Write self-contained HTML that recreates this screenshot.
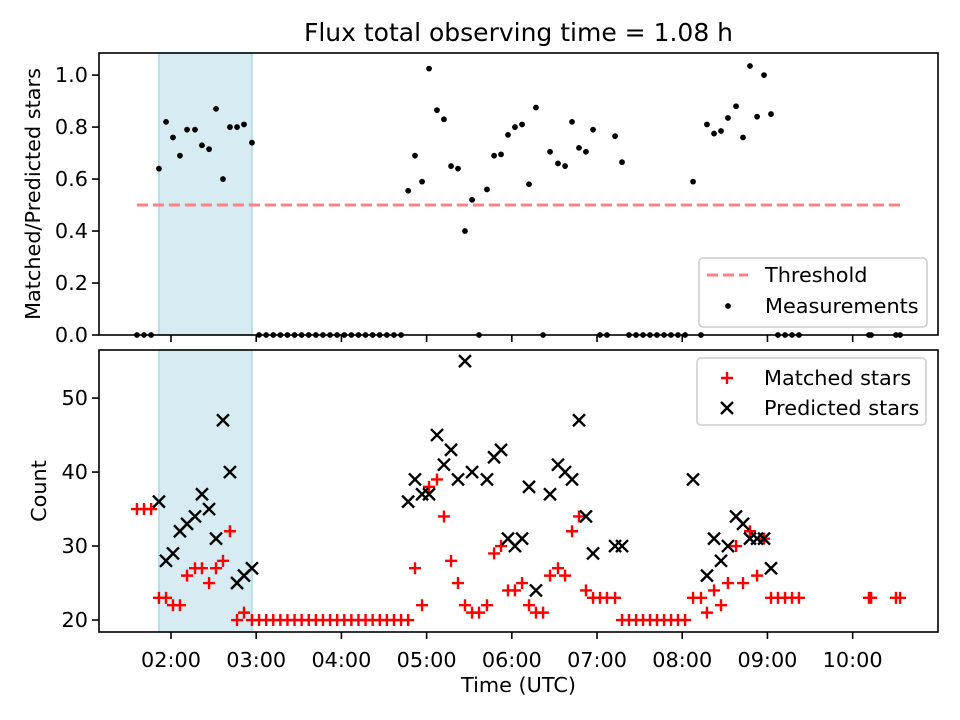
<!DOCTYPE html>
<html><head><meta charset="utf-8"><style>
html,body{margin:0;padding:0;background:#fff;}
svg{display:block;font-family:"DejaVu Sans","Liberation Sans",sans-serif;}
</style></head><body>
<svg id="chart" width="960" height="720" viewBox="0 0 960 720"></svg>
<script>
// data: time in minutes since 00:00 UTC
const times = [96,101,106,111.5,116.5,121.4,126.3,131.3,136.9,141.8,146.8,151.7,156.6,161.5,166.5,171.4,177,
182,187,192,197,202,207,212,217,222,227,232,237,242,247,252,257,262,267,272,277,282,
287,291.8,296.8,301.7,307.3,312.2,317.2,322.1,327,332,336.9,342.5,347.5,352.4,357.3,362.2,367.2,372.1,377,382,386.9,392.5,397.5,402.4,407.3,412.2,417.2,422.1,427,432.7,437.6,
442.5,447.5,452.4,457.3,462.2,467.2,472.1,477,482,
487.6,493.2,497.4,502.4,507.3,512.2,517.9,522.8,527.7,532.7,537.6,542.5,547.4,552.4,557.3,562.2,
611.5,613,630.5,633.4];
const ratio = [0,0,0,.64,.82,.76,.69,.79,.79,.73,.715,.87,.60,.80,.80,.81,.74,
0,0,0,0,0,0,0,0,0,0,0,0,0,0,0,0,0,0,0,0,0,
.555,.69,.59,1.025,.865,.83,.65,.64,.40,.52,0,.56,.69,.695,.77,.80,.81,.58,.875,0,.705,.66,.65,.82,.72,.705,.79,0,0,.765,.665,
0,0,0,0,0,0,0,0,0,
.59,0,.81,.775,.785,.835,.88,.76,1.035,.84,1.0,.85,0,0,0,0,
0,0,0,0];
const matched = [35,35,35,23,23,22,22,26,27,27,25,27,28,32,20,21,20,
20,20,20,20,20,20,20,20,20,20,20,20,20,20,20,20,20,20,20,20,20,
20,27,22,38,39,34,28,25,22,21,21,22,29,30,24,24,25,22,21,21,26,27,26,32,34,24,23,23,23,23,20,
20,20,20,20,20,20,20,20,20,
23,23,21,24,22,25,30,25,32,26,31,23,23,23,23,23,
23,23,23,23];
const predicted = [null,null,null,36,28,29,32,33,34,37,35,31,47,40,25,26,27,
null,null,null,null,null,null,null,null,null,null,null,null,null,null,null,null,null,null,null,null,null,
36,39,37,37,45,41,43,39,55,40,null,39,42,43,31,30,31,38,24,null,37,41,40,39,47,34,29,null,null,30,30,
null,null,null,null,null,null,null,null,null,
39,null,26,31,28,30,34,33,31,31,31,27,null,null,null,null,
null,null,null,null];
const xTickMinutes = [120,180,240,300,360,420,480,540,600];
const xTickLabels = ["02:00","03:00","04:00","05:00","06:00","07:00","08:00","09:00","10:00"];
const topTicks = [0,0.2,0.4,0.6,0.8,1.0];
const topTickLabels = ["0.0","0.2","0.4","0.6","0.8","1.0"];
const botTicks = [20,30,40,50];
const threshold = [0.5];
const shadeStart = [111.5];
const shadeEnd = [177];

const NS="http://www.w3.org/2000/svg";
const svg=document.getElementById('chart');
function mk(tag,attrs,parent){const e=document.createElementNS(NS,tag);for(const k in attrs)e.setAttribute(k,attrs[k]);(parent||svg).appendChild(e);return e;}
const L=99,R=938,T1=53,B1=335,T2=350,B2=632;
const xMin=69.3,xMax=660.1;
const X=m=>L+(m-xMin)/(xMax-xMin)*(R-L);
const Y1=v=>B1-(v-0)/(1.085-0)*(B1-T1);
const Y2=v=>B2-(v-18.38)/(56.5-18.38)*(B2-T2);

// shaded regions
[[T1,B1],[T2,B2]].forEach((p,i)=>{
  const r=mk('rect',{x:X(shadeStart[0]),y:p[0],width:X(shadeEnd[0])-X(shadeStart[0]),height:p[1]-p[0],fill:'#add8e6','fill-opacity':0.5,stroke:'#add8e6','stroke-width':1.5});
  
  
});

// threshold line
const th=mk('line',{x1:X(times[0]),x2:X(times[times.length-1]),y1:Y1(threshold[0]),y2:Y1(threshold[0]),stroke:'#ff8080','stroke-width':3,'stroke-dasharray':'11 5'});



// top scatter
const gTop=mk('g',{});


times.forEach((t,i)=>{
  const c=mk('circle',{cx:X(t),cy:Y1(ratio[i]),r:2.9,fill:'#000'},gTop);
  
  
});

// bottom
const gM=mk('g',{stroke:'#ff0000','stroke-width':2.4});


const gP=mk('g',{stroke:'#000','stroke-width':2.4});


times.forEach((t,i)=>{
  const cx=X(t);
  if(matched[i]!=null){const cy=Y2(matched[i]);
    const p=mk('path',{d:`M${cx-6} ${cy}H${cx+6}M${cx} ${cy-6}V${cy+6}`},gM);
    
    }
  if(predicted[i]!=null){const cy=Y2(predicted[i]);
    const p=mk('path',{d:`M${cx-6} ${cy-6}L${cx+6} ${cy+6}M${cx-6} ${cy+6}L${cx+6} ${cy-6}`},gP);
    
    }
});

// frames
[[T1,B1],[T2,B2]].forEach((p,i)=>{
  const f=mk('rect',{x:L,y:p[0],width:R-L,height:p[1]-p[0],fill:'none',stroke:'#000','stroke-width':1.6});
  
  
});
// y ticks
topTicks.forEach((v,i)=>{
  const y=Y1(v);
  mk('line',{x1:L-7,x2:L,y1:y,y2:y,stroke:'#000','stroke-width':1.6});
  const t=mk('text',{x:L-11,y:y+7,'text-anchor':'end','font-size':20.8});
  t.textContent=topTickLabels[i];
  
  
});
botTicks.forEach(v=>{
  const y=Y2(v);
  mk('line',{x1:L-7,x2:L,y1:y,y2:y,stroke:'#000','stroke-width':1.6});
  const t=mk('text',{x:L-11,y:y+7,'text-anchor':'end','font-size':20.8});
  t.textContent=String(v);
  
  
});
xTickMinutes.forEach((m,i)=>{
  const x=X(m);
  mk('line',{x1:x,x2:x,y1:B1,y2:B1+7,stroke:'#000','stroke-width':1.6});
  mk('line',{x1:x,x2:x,y1:B2,y2:B2+7,stroke:'#000','stroke-width':1.6});
  const t=mk('text',{x:x,y:667,'text-anchor':'middle','font-size':20.8});
  t.textContent=xTickLabels[i];
  
  
});
</script>
<svg width="0" height="0" style="position:absolute"></svg>
<script>
(function(){
const NS="http://www.w3.org/2000/svg";const svg=document.getElementById('chart');
function mk(tag,attrs,parent){const e=document.createElementNS(NS,tag);for(const k in attrs)e.setAttribute(k,attrs[k]);(parent||svg).appendChild(e);return e;}
let t=mk('text',{x:518.5,y:41,'text-anchor':'middle','font-size':25});t.textContent='Flux total observing time = 1.08 h';


t=mk('text',{x:518.5,y:692,'text-anchor':'middle','font-size':20.8});t.textContent='Time (UTC)';


t=mk('text',{x:0,y:0,'text-anchor':'middle','font-size':20.8,transform:'translate(40,194) rotate(-90)'});t.textContent='Matched/Predicted stars';


t=mk('text',{x:0,y:0,'text-anchor':'middle','font-size':20.8,transform:'translate(46,491) rotate(-90)'});t.textContent='Count';


// top legend
let g=mk('g',{});


mk('rect',{x:699,y:258,width:228,height:69,rx:4,fill:'#fff','fill-opacity':0.8,stroke:'#ccc','stroke-width':1.5},g);
mk('line',{x1:707,x2:748,y1:275,y2:275,stroke:'#ff8080','stroke-width':3,'stroke-dasharray':'11 5'},g);
t=mk('text',{x:765,y:282,'font-size':20.8},g);t.textContent='Threshold';


mk('circle',{cx:728,cy:306,r:2.9,fill:'#000'},g);
t=mk('text',{x:765,y:313,'font-size':20.8},g);t.textContent='Measurements';


// bottom legend
g=mk('g',{});


mk('rect',{x:697,y:358,width:229,height:67,rx:4,fill:'#fff','fill-opacity':0.8,stroke:'#ccc','stroke-width':1.5},g);
mk('path',{d:'M721 378H733M727 372V384',stroke:'#f00','stroke-width':2.4},g);
t=mk('text',{x:764,y:385,'font-size':20.8},g);t.textContent='Matched stars';


mk('path',{d:'M721 402L733 414M721 414L733 402',stroke:'#000','stroke-width':2.4},g);
t=mk('text',{x:764,y:415,'font-size':20.8},g);t.textContent='Predicted stars';


})();
</script>
</body></html>
